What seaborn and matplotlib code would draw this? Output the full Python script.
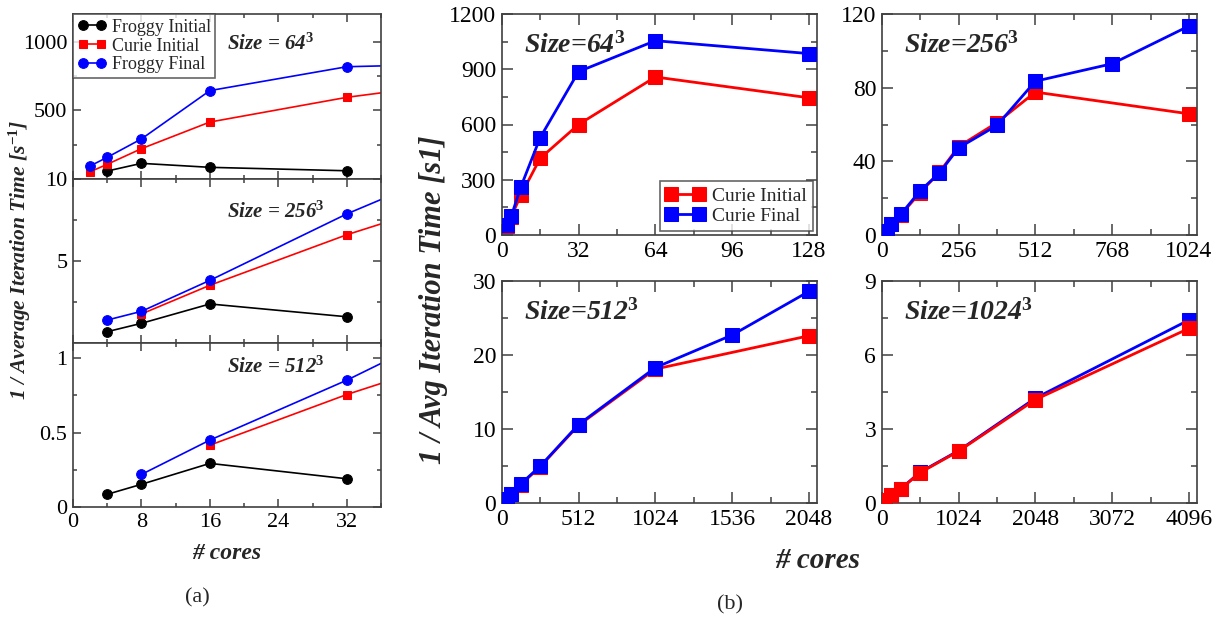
import matplotlib
matplotlib.use("Agg")
import matplotlib.pyplot as plt
import seaborn as sns
from matplotlib.ticker import MultipleLocator

# ---- (a) Froggy / Curie, left column ----
a64_fi_x = [4, 8, 16, 32]
a64_fi_y = [58, 114, 85, 60]
a64_ci_x = [2, 4, 8, 16, 32, 64]
a64_ci_y = [53, 107, 221, 415, 595, 855]
a64_ff_x = [2, 4, 8, 16, 32, 64]
a64_ff_y = [95, 158, 292, 644, 818, 866]

a256_fi_x = [4, 8, 16, 32]
a256_fi_y = [0.69, 1.20, 2.38, 1.60]
a256_ci_x = [8, 16, 32, 64]
a256_ci_y = [1.77, 3.52, 6.60, 11.9]
a256_ff_x = [4, 8, 16, 32, 64]
a256_ff_y = [1.40, 1.93, 3.82, 7.87, 14.9]

a512_fi_x = [4, 8, 16, 32]
a512_fi_y = [0.087, 0.154, 0.294, 0.191]
a512_ci_x = [16, 32, 64]
a512_ci_y = [0.416, 0.755, 1.35]
a512_ff_x = [8, 16, 32, 64]
a512_ff_y = [0.22, 0.45, 0.851, 1.75]

# ---- (b) Curie, 2x2 grid ----
b64_x = [2, 4, 8, 16, 32, 64, 128]
b64_init = [50, 100, 217, 416, 600, 858, 745]
b64_final = [54, 103, 262, 528, 887, 1055, 985]

b256_init_x = [16, 32, 64, 128, 192, 256, 384, 512, 1024]
b256_init = [2.2, 6.0, 11.0, 23.0, 34.0, 48.0, 61.0, 77.6, 65.8]
b256_final_x = [16, 32, 64, 128, 192, 256, 384, 512, 768, 1024]
b256_final = [2.2, 6.2, 11.3, 24.0, 33.6, 47.3, 59.5, 83.5, 93.0, 113.5]

b512_init_x = [32, 64, 128, 256, 512, 1024, 2048]
b512_init = [0.6, 1.2, 2.5, 4.9, 10.5, 18.1, 22.6]
b512_final_x = [32, 64, 128, 256, 512, 1024, 1536, 2048]
b512_final = [0.6, 1.26, 2.6, 4.96, 10.6, 18.3, 22.7, 28.6]

b1024_x = [32, 128, 256, 512, 1024, 2048, 4096]
b1024_init = [0.14, 0.31, 0.58, 1.23, 2.1, 4.19, 7.08]
b1024_final = [0.14, 0.31, 0.58, 1.25, 2.12, 4.25, 7.42]

sns.set_theme(style="ticks")
plt.rcParams["font.family"] = ["Liberation Serif", "DejaVu Serif"]
plt.rcParams["mathtext.fontset"] = "custom"
plt.rcParams["mathtext.it"] = "Liberation Serif:italic:bold"
plt.rcParams["mathtext.rm"] = "Liberation Serif:bold"
plt.rcParams["mathtext.bf"] = "Liberation Serif:bold:italic"

SPINE = "#404040"
W, H = 1221, 619
fig = plt.figure(figsize=(W / 100, H / 100), dpi=100)


def box(x0, y0, x1, y1):
    return fig.add_axes([x0 / W, 1 - y1 / H, (x1 - x0) / W, (y1 - y0) / H])


def style(ax, size, maj_len=6, min_len=3):
    for s in ax.spines.values():
        s.set_color(SPINE)
        s.set_linewidth(1.2)
    ax.tick_params(which="both", direction="in", top=True, right=True,
                   colors=SPINE, labelcolor="black", labelsize=size, width=1.1)
    ax.tick_params(which="major", length=maj_len, pad=4)
    ax.tick_params(which="minor", length=min_len)


def series(ax, x, y, color, marker, ms, lw, z=2, label=None):
    sns.lineplot(x=x, y=y, ax=ax, color=color, marker=marker, markersize=ms,
                 markeredgecolor=color, linewidth=lw, estimator=None,
                 sort=False, zorder=z, label=label, legend=False)


# ---------- left column ----------
axA1 = box(73, 14.3, 381, 179)
axA2 = box(73, 179, 381, 343)
axA3 = box(73, 343, 381, 507.3)

left_sets = [
    (axA1, a64_fi_x, a64_fi_y, a64_ci_x, a64_ci_y, a64_ff_x, a64_ff_y, 1200, 500, 250),
    (axA2, a256_fi_x, a256_fi_y, a256_ci_x, a256_ci_y, a256_ff_x, a256_ff_y, 10, 5, 2.5),
    (axA3, a512_fi_x, a512_fi_y, a512_ci_x, a512_ci_y, a512_ff_x, a512_ff_y, 1.1, 0.5, 0.25),
]
for ax, fx, fy, cx, cy, gx, gy, top, maj, mnr in left_sets:
    series(ax, fx, fy, "black", "o", 7, 1.2, label="Froggy Initial")
    series(ax, cx, cy, "#ff0000", "s", 6, 1.2, label="Curie Initial")
    series(ax, gx, gy, "#0000ff", "o", 7, 1.2, label="Froggy Final")
    ax.set_xlim(0, 36)
    ax.set_ylim(0, top)
    ax.xaxis.set_major_locator(MultipleLocator(8))
    ax.xaxis.set_minor_locator(MultipleLocator(4))
    ax.yaxis.set_major_locator(MultipleLocator(maj))
    ax.yaxis.set_minor_locator(MultipleLocator(mnr))
    style(ax, 16)
    ax.set_xlabel("")
    ax.set_ylabel("")

axA1.set_yticks([500, 1000])
axA2.set_yticks([5, 10])
axA3.set_yticks([0, 0.5, 1])
axA3.set_yticklabels(["0", "0.5", "1"])
axA1.tick_params(labelbottom=False)
axA2.tick_params(labelbottom=False)
axA3.set_xticks([0, 8, 16, 24, 32])
axA3.set_xlabel("# cores", fontsize=17, fontweight="bold", style="italic", labelpad=8)

leg = axA1.legend(loc="upper left", fontsize=13, frameon=True, fancybox=False,
                  borderaxespad=0, numpoints=2, handlelength=1.6,
                  handletextpad=0.3, borderpad=0.25, labelspacing=0.1)
leg.get_frame().set_edgecolor(SPINE)
leg.get_frame().set_linewidth(1.2)

txt = dict(fontsize=15, fontweight="bold", style="italic", ha="left", va="center")
axA1.text(0.50, 0.82, r"Size = 64$^3$", transform=axA1.transAxes, **txt)
axA2.text(0.50, 0.80, r"Size = 256$^3$", transform=axA2.transAxes, **txt)
axA3.text(0.50, 0.85, r"Size = 512$^3$", transform=axA3.transAxes, **txt)

fig.text(20 / W, 1 - 260 / H, r"1 / Average Iteration Time [s$^{-1}$]", rotation=90,
         fontsize=15.5, fontweight="bold", style="italic", ha="center", va="center")
fig.text(197 / W, 1 - 598 / H, "(a)", fontsize=16, ha="center", va="center")

# ---------- right grid ----------
axB1 = box(501.7, 14, 816.7, 235)
axB2 = box(881.7, 14, 1196.7, 235)
axB3 = box(501.7, 281, 816.7, 503)
axB4 = box(881.7, 281, 1196.7, 503)

RED, BLUE = "#ff0000", "#0000ff"
series(axB1, b64_x, b64_init, RED, "s", 9.5, 2.0, label="Curie Initial")
series(axB1, b64_x, b64_final, BLUE, "s", 9.5, 2.0, z=3, label="Curie Final")
series(axB2, b256_init_x, b256_init, RED, "s", 9.5, 2.0)
series(axB2, b256_final_x, b256_final, BLUE, "s", 9.5, 2.0, z=3)
series(axB3, b512_init_x, b512_init, RED, "s", 9.5, 2.0)
series(axB3, b512_final_x, b512_final, BLUE, "s", 9.5, 2.0, z=3)
series(axB4, b1024_x, b1024_final, BLUE, "s", 9.5, 2.0)
series(axB4, b1024_x, b1024_init, RED, "s", 9.5, 2.0, z=3)

grid = [
    (axB1, 128, 32, 16, 1200, 300, 150, r"Size=64$^3$"),
    (axB2, 1024, 256, 128, 120, 40, 20, r"Size=256$^3$"),
    (axB3, 2048, 512, 256, 30, 10, 5, r"Size=512$^3$"),
    (axB4, 4096, 1024, 512, 9, 3, 1.5, r"Size=1024$^3$"),
]
for ax, xm, xmaj, xmin, ym, ymaj, ymin, lab in grid:
    ax.set_xlim(0, xm * 1.025)
    ax.set_ylim(0, ym)
    ax.xaxis.set_major_locator(MultipleLocator(xmaj))
    ax.xaxis.set_minor_locator(MultipleLocator(xmin))
    ax.yaxis.set_major_locator(MultipleLocator(ymaj))
    ax.yaxis.set_minor_locator(MultipleLocator(ymin))
    style(ax, 17, maj_len=8, min_len=4)
    ax.set_xlabel("")
    ax.set_ylabel("")
    ax.text(0.07, 0.86, lab, transform=ax.transAxes, fontsize=20,
            fontweight="bold", style="italic", ha="left", va="center")

leg2 = axB1.legend(loc="lower right", fontsize=14, frameon=True, fancybox=False,
                   borderaxespad=0.2, numpoints=2, handlelength=2.0,
                   handletextpad=0.4, borderpad=0.3, labelspacing=0.15)
leg2.get_frame().set_edgecolor(SPINE)
leg2.get_frame().set_linewidth(1.2)

fig.text(433 / W, 1 - 300 / H, "1 / Avg Iteration Time [s1]", rotation=90,
         fontsize=22, fontweight="bold", style="italic", ha="center", va="center")
fig.text(818 / W, 1 - 560 / H, "# cores", fontsize=21, fontweight="bold",
         style="italic", ha="center", va="center")
fig.text(730 / W, 1 - 605 / H, "(b)", fontsize=16, ha="center", va="center")

fig.savefig("out.png", dpi=100)
